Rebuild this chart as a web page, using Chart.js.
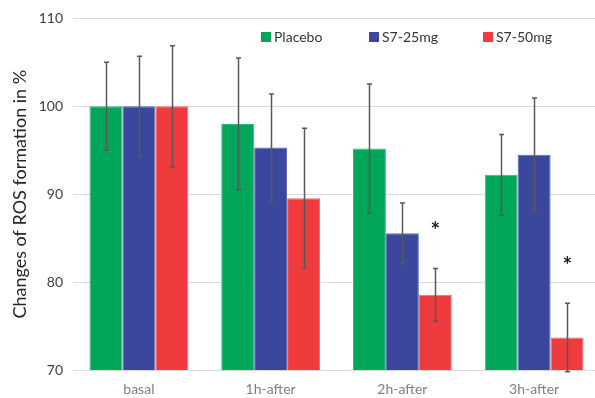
<!DOCTYPE html>
<html>
<head>
<meta charset="utf-8">
<script src="https://cdn.jsdelivr.net/npm/chart.js@4/dist/chart.umd.min.js"></script>
<style>
html,body{margin:0;padding:0;background:#fff;overflow:hidden;}
#wrap{width:600px;height:398px;position:relative;}
</style>
</head>
<body>
<div id="wrap"><canvas id="c" width="600" height="398"></canvas></div>
<script>
const categories = ["basal", "1h-after", "2h-after", "3h-after"];
const seriesNames = ["Placebo", "S7-25mg", "S7-50mg"];
const placebo = [100, 98.0, 95.2, 92.2];
const s7_25 = [100, 95.3, 85.55, 94.5];
const s7_50 = [100, 89.55, 78.55, 73.7];
const placeboErr = [5.0, 7.5, 7.35, 4.6];
const s7_25Err = [5.7, 6.1, 3.45, 6.45];
const s7_50Err = [6.9, 7.95, 3.0, 3.9];
const s7_50Sig = ["", "", "*", "*"];
const yTicks = [70, 80, 90, 100, 110];

const colors = ["#00A65A", "#3A479C", "#EF3A3E"];
const borders = ["#33B87B", "#5A66B0", "#F26A6D"];
const values = [placebo, s7_25, s7_50];
const errs = [placeboErr, s7_25Err, s7_50Err];
const FONT = "Lato, 'Open Sans', sans-serif";

const errorBarPlugin = {
  id: 'errorBars',
  afterDatasetsDraw(chart) {
    const ctx = chart.ctx;
    const y = chart.scales.y;
    ctx.save();
    ctx.strokeStyle = '#595959';
    ctx.lineWidth = 1.5;
    chart.data.datasets.forEach((ds, di) => {
      const meta = chart.getDatasetMeta(di);
      meta.data.forEach((bar, i) => {
        const v = ds.data[i], e = ds.errors[i];
        const x = Math.round(bar.x) + 0.5;
        const yt = y.getPixelForValue(v + e);
        const yb = y.getPixelForValue(v - e);
        ctx.beginPath();
        ctx.moveTo(x, yt); ctx.lineTo(x, yb);
        ctx.moveTo(x - 2.5, yt); ctx.lineTo(x + 2.5, yt);
        ctx.moveTo(x - 2.5, yb); ctx.lineTo(x + 2.5, yb);
        ctx.stroke();
        if (ds.sig && ds.sig[i]) {
          ctx.fillStyle = '#222';
          ctx.font = "bold 23px " + FONT;
          ctx.textAlign = 'center';
          ctx.textBaseline = 'middle';
          ctx.fillText(ds.sig[i], x, yt - 38);
        }
      });
    });
    ctx.restore();
  }
};

const legendPlugin = {
  id: 'inLegend',
  afterDraw(chart) {
    const ctx = chart.ctx;
    const xs = [261, 369, 483];
    ctx.save();
    ctx.font = "14px " + FONT;
    ctx.textBaseline = 'middle';
    ctx.textAlign = 'left';
    chart.data.datasets.forEach((ds, i) => {
      ctx.fillStyle = ds.backgroundColor;
      ctx.fillRect(xs[i], 32, 10, 10);
      ctx.fillStyle = '#333333';
      ctx.fillText(ds.label, xs[i] + 13, 37.5);
    });
    ctx.restore();
  }
};

new Chart(document.getElementById('c'), {
  type: 'bar',
  data: {
    labels: categories,
    datasets: seriesNames.map((n, i) => ({
      label: n,
      data: values[i],
      errors: errs[i],
      sig: i === 2 ? s7_50Sig : null,
      backgroundColor: colors[i],
      borderColor: borders[i],
      borderWidth: 1,
      barPercentage: 1.0,
      categoryPercentage: 0.75
    }))
  },
  options: {
    responsive: false,
    animation: false,
    layout: { padding: { top: 18, right: 0, left: 0, bottom: 0 } },
    plugins: { legend: { display: false }, tooltip: { enabled: false } },
    scales: {
      x: {
        grid: { display: false, drawTicks: false },
        border: { display: false },
        ticks: { color: '#7F7F7F', font: { family: FONT, size: 14 }, padding: 11 },
        afterFit(s) { s.height = 28; }
      },
      y: {
        min: 70, max: 110,
        afterBuildTicks(s) { s.ticks = yTicks.map(v => ({ value: v })); },
        grid: { color: '#D9D9D9', lineWidth: 1, drawTicks: false },
        border: { display: false },
        ticks: { color: '#404040', font: { family: FONT, size: 14 }, padding: 10 },
        title: { display: true, text: 'Changes of ROS formation in %', color: '#262626', font: { family: FONT, size: 18 }, padding: { top: 9, bottom: 0 } },
        afterFit(s) { s.width = 73; }
      }
    }
  },
  plugins: [errorBarPlugin, legendPlugin]
});
</script>
</body>
</html>
